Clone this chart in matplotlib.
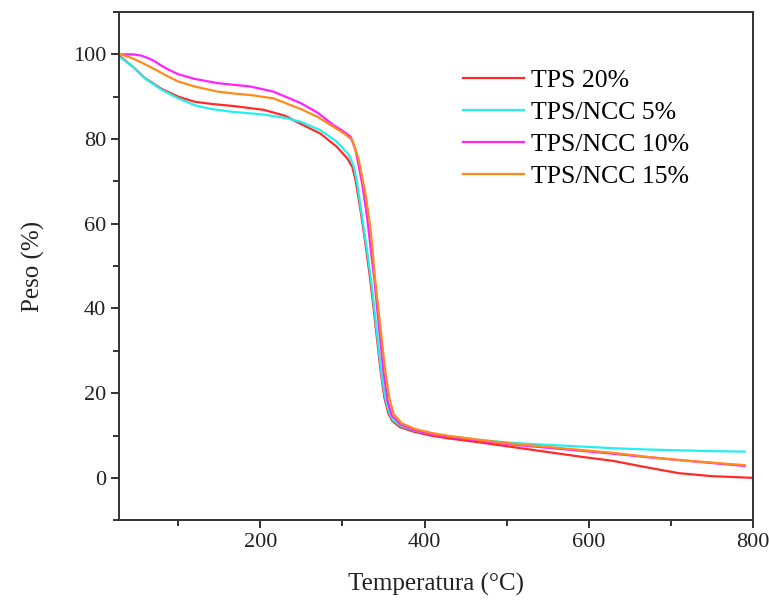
import matplotlib
matplotlib.use('Agg')
import matplotlib.pyplot as plt
from matplotlib.ticker import MultipleLocator

# TGA data
t_tps20 = [30, 45, 60, 80, 100, 120, 140, 167, 204, 230, 249, 273, 293, 306, 312, 316,
           322, 328, 334, 340, 346, 351, 356, 361, 370, 387, 407, 430, 470, 510, 550,
           590, 630, 670, 710, 750, 800]
w_tps20 = [99.4, 97.0, 94.3, 91.8, 90.0, 88.8, 88.3, 87.8, 86.9, 85.5, 83.6, 81.3, 78.2,
           75.4, 73.4, 70.3, 63.2, 55.3, 46.6, 36.5, 26.0, 19.0, 15.2, 13.4, 12.0, 10.9,
           10.0, 9.3, 8.3, 7.2, 6.1, 5.0, 4.0, 2.5, 1.1, 0.4, 0.0]

t_ncc5 = [30, 45, 60, 80, 100, 120, 140, 167, 204, 230, 249, 273, 293, 308, 314, 318,
          324, 330, 335, 341, 347, 352, 357, 362, 371, 387, 407, 430, 470, 510, 550,
          590, 630, 670, 710, 750, 790]
w_ncc5 = [99.2, 97.0, 94.2, 91.6, 89.6, 88.0, 87.1, 86.4, 85.8, 85.0, 84.1, 82.1, 79.4,
          76.2, 73.4, 69.5, 61.6, 53.7, 46.6, 36.0, 25.5, 19.0, 15.4, 13.6, 12.3, 11.2,
          10.4, 9.8, 8.9, 8.2, 7.8, 7.4, 7.0, 6.7, 6.5, 6.3, 6.2]

t_ncc10 = [30, 45, 55, 62, 70, 78, 87, 100, 120, 148, 188, 216, 249, 270, 289, 302, 310,
           316, 324, 330, 336, 339, 344, 350, 355, 360, 371, 387, 407, 430, 470, 510,
           550, 590, 630, 670, 710, 750, 790]
w_ncc10 = [100.0, 100.0, 99.7, 99.2, 98.5, 97.5, 96.5, 95.3, 94.2, 93.2, 92.4, 91.2,
           88.5, 86.2, 83.3, 81.7, 80.5, 77.4, 69.5, 61.6, 51.4, 46.6, 36.5, 25.0, 18.2,
           14.8, 12.6, 11.3, 10.4, 9.7, 8.7, 7.8, 7.1, 6.4, 5.7, 4.9, 4.2, 3.5, 2.8]

t_ncc15 = [30, 45, 60, 75, 87, 100, 120, 148, 170, 188, 216, 249, 270, 289, 302, 312,
           320, 328, 334, 340, 346, 352, 357, 362, 372, 389, 409, 430, 470, 510, 550,
           590, 630, 670, 710, 750, 790]
w_ncc15 = [100.0, 99.0, 97.6, 96.1, 94.8, 93.6, 92.4, 91.2, 90.7, 90.4, 89.6, 87.1, 85.2,
           82.9, 81.3, 79.8, 75.0, 67.1, 59.2, 46.6, 36.0, 25.5, 19.0, 15.2, 12.9, 11.5,
           10.6, 9.9, 8.9, 8.0, 7.3, 6.6, 5.9, 5.0, 4.2, 3.6, 3.0]

labels = ['TPS 20%', 'TPS/NCC 5%', 'TPS/NCC 10%', 'TPS/NCC 15%']
colors = ['#ff2a2a', '#22f0f0', '#ff22ff', '#ff8c1a']

plt.rcParams['font.family'] = ['Liberation Serif', 'DejaVu Serif']

fig = plt.figure(figsize=(7.69, 6.0), dpi=100)
ax = fig.add_axes([0.155, 0.133, 0.824, 0.847])

series = [(t_tps20, w_tps20), (t_ncc5, w_ncc5), (t_ncc10, w_ncc10), (t_ncc15, w_ncc15)]
for (t, w), lab, c in zip(series, labels, colors):
    ax.plot(t, w, color=c, lw=1.6, label=lab)

ax.set_xlim(28, 800)
ax.set_ylim(-10, 110)
ax.xaxis.set_major_locator(MultipleLocator(200))
ax.xaxis.set_minor_locator(MultipleLocator(100))
ax.yaxis.set_major_locator(MultipleLocator(20))
ax.yaxis.set_minor_locator(MultipleLocator(10))
ax.tick_params(which='both', direction='out', width=1.3, colors='#222222',
               labelcolor='#222222', labelsize=16, top=False, right=False)
ax.tick_params(which='major', length=6)
ax.tick_params(which='minor', length=4)
for sp in ax.spines.values():
    sp.set_linewidth(1.4)
    sp.set_color('#333333')

ax.set_xlabel('Temperatura (°C)', fontsize=18, color='#222222', labelpad=15)
ax.set_ylabel('Peso (%)', fontsize=18, color='#222222', labelpad=20)

ax.legend(loc='upper left', bbox_to_anchor=(0.543, 0.887), frameon=False, fontsize=18.5,
          handlelength=2.35, handletextpad=0.3, labelspacing=0.34, borderpad=0,
          borderaxespad=0)

fig.savefig('out.png', dpi=100)
